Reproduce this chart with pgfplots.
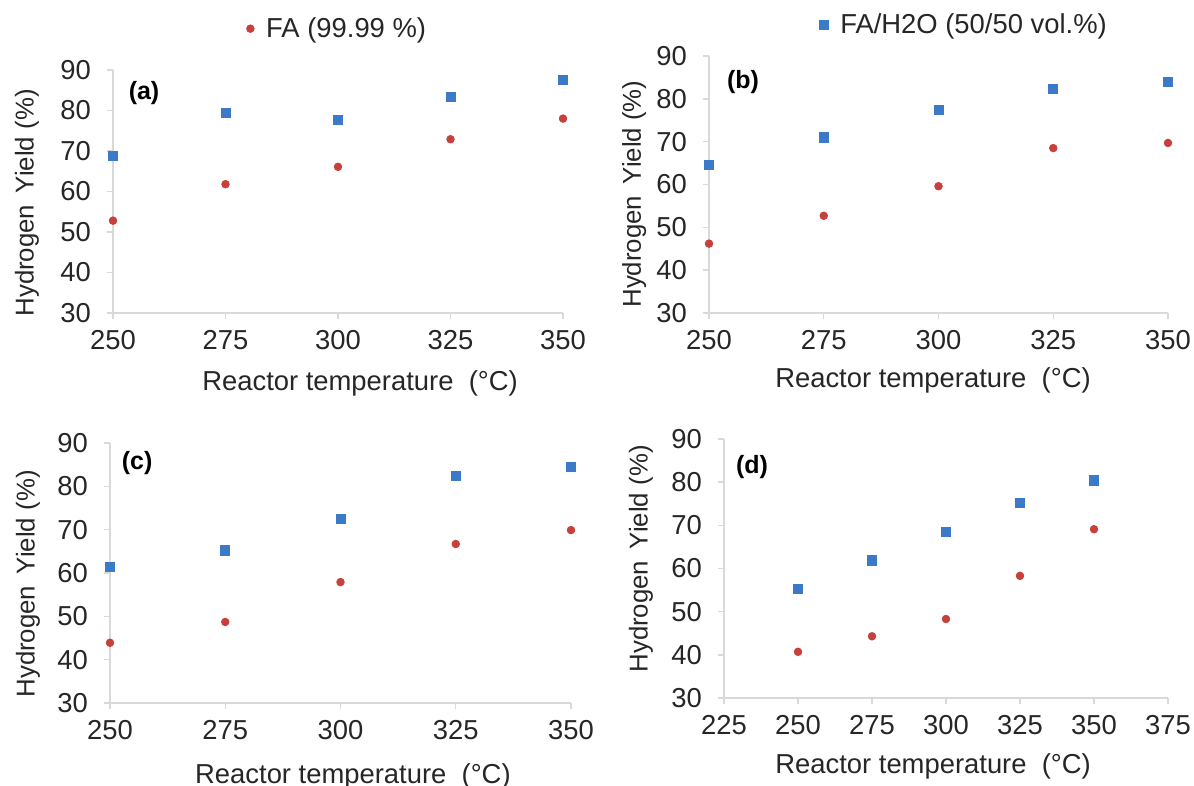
\documentclass[border=0pt]{standalone}
\usepackage{fontspec}
\setmainfont{Liberation Sans}
\usepackage{pgfplots}
\pgfplotsset{compat=1.18}
\definecolor{myred}{RGB}{200,64,60}
\definecolor{myblue}{RGB}{58,122,200}
\definecolor{axgray}{RGB}{217,217,217}
\newcommand{\tfont}{\fontsize{13.7}{16}\selectfont}
\newcommand{\yfont}{\fontsize{12.9}{15}\selectfont}
\newcommand{\pfont}{\fontsize{12.5}{15}\selectfont\bfseries}
\pgfplotsset{
  panel/.style={
    scale only axis,
    axis x line=bottom, axis y line=left,
    axis line style={-, draw=axgray, line width=0.7pt},
    tick style={draw=axgray, line width=0.7pt},
    tick align=outside, major tick length=3pt,
    ymin=30, ymax=90, ytick={30,40,...,90},
    xmin=250, xmax=350, xtick={250,275,...,350},
    clip=false,
    ticklabel style={font=\tfont, text=black!85},
    yticklabel style={xshift=-4.5pt},
    xticklabel style={yshift=-2pt},
    /pgf/number format/assume math mode=true,
    /pgf/number format/1000 sep={},
    xlabel={Reactor temperature\ \ (°C)},
    ylabel={Hydrogen\hspace{0.45em}Yield (\%)},
    label style={text=black!85},
    xlabel style={font=\tfont, anchor=center},
    ylabel style={font=\yfont, anchor=center, rotate=0},
    legend image code/.code={\draw[#1] plot coordinates {(0pt,0pt)};},
    legend style={draw=none, fill=none, font=\tfont, text=black!85, inner sep=0pt, anchor=west, column sep=4pt},
  },
  fa/.style={only marks, mark=*, mark size=1.9pt, color=myred, mark options={draw=myred, fill=myred}},
  faw/.style={only marks, mark=square*, mark size=2.3pt, color=myblue, mark options={draw=myblue, fill=myblue}},
}
\begin{document}
\begin{tikzpicture}
\useasboundingbox (0,0) rectangle (597pt,-393pt);
% (a)
\begin{axis}[panel, width=225pt, height=121.5pt, at={(56.5pt,-156.5pt)},
  xlabel style={at={(axis description cs:0.549,-0.288)}},
  ylabel style={at={(axis description cs:-0.191,0.453)}},
  legend style={at={(axis description cs:0.296,1.170)}}]
\addplot[fa] coordinates {(250,52.8) (275,61.8) (300,66.1) (325,72.9) (350,78.0)};
\addlegendentry{FA (99.99 \%)}
\addplot[faw, forget plot] coordinates {(250,68.7) (275,79.4) (300,77.7) (325,83.3) (350,87.5)};
\node[font=\pfont] at (axis description cs:0.069,0.905) {(a)};
\end{axis}
% (b)
\begin{axis}[panel, width=229.5pt, height=128.5pt, at={(354.5pt,-156.5pt)},
  xlabel style={at={(axis description cs:0.488,-0.261)}},
  ylabel style={at={(axis description cs:-0.163,0.463)}},
  legend style={at={(axis description cs:0.239,1.122)}}]
\addplot[fa, forget plot] coordinates {(250,46.2) (275,52.7) (300,59.6) (325,68.5) (350,69.7)};
\addplot[faw] coordinates {(250,64.5) (275,71.0) (300,77.5) (325,82.3) (350,83.9)};
\addlegendentry{FA/H2O (50/50 vol.\%)}
\node[font=\pfont] at (axis description cs:0.074,0.899) {(b)};
\end{axis}
% (c)
\begin{axis}[panel, width=230.5pt, height=130pt, at={(55pt,-351.5pt)},
  xlabel style={at={(axis description cs:0.527,-0.281)}},
  ylabel style={at={(axis description cs:-0.178,0.458)}}]
\addplot[faw] coordinates {(250,61.5) (275,65.2) (300,72.4) (325,82.4) (350,84.4)};
\addplot[fa] coordinates {(250,43.9) (275,48.7) (300,57.9) (325,66.7) (350,69.9)};
\node[font=\pfont] at (axis description cs:0.059,0.923) {(c)};
\end{axis}
% (d)
\begin{axis}[panel, width=222pt, height=129.5pt, at={(362pt,-349pt)},
  xmin=225, xmax=375, xtick={225,250,...,375},
  xlabel style={at={(axis description cs:0.471,-0.266)}},
  ylabel style={at={(axis description cs:-0.187,0.537)}}]
\addplot[faw] coordinates {(250,55.2) (275,61.9) (300,68.4) (325,75.2) (350,80.4)};
\addplot[fa] coordinates {(250,40.7) (275,44.3) (300,48.3) (325,58.3) (350,69.1)};
\node[font=\pfont] at (axis description cs:0.063,0.892) {(d)};
\end{axis}
\end{tikzpicture}
\end{document}
